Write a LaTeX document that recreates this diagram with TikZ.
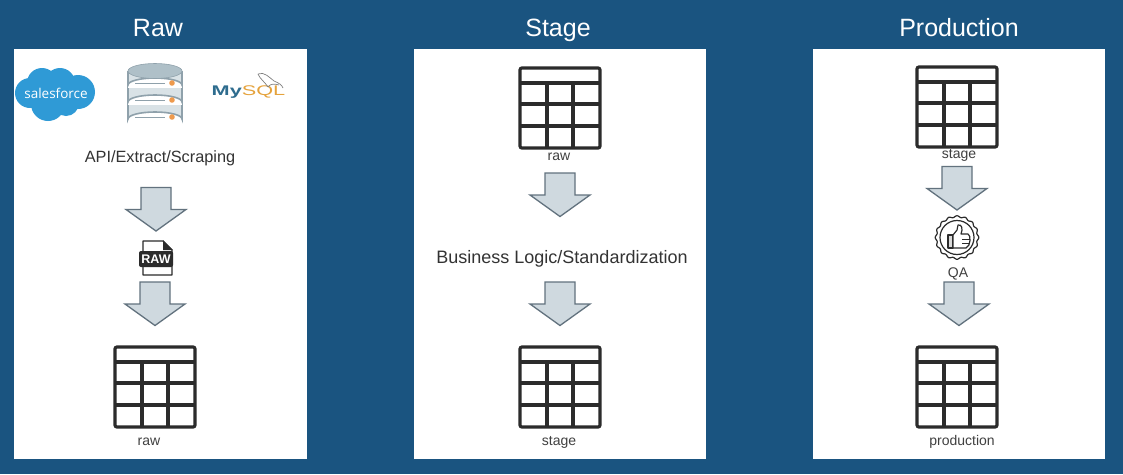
\documentclass[tikz,border=0pt]{standalone}
\usepackage{fontspec}
\setmainfont{Liberation Sans}
\newfontfamily\cloudfont{Open Sans}
\definecolor{bgblue}{HTML}{1A5480}
\definecolor{arrowgray}{HTML}{CFD9DF}
\definecolor{arrowedge}{HTML}{62727E}
\definecolor{cloudblue}{HTML}{2F9AD6}
\definecolor{diskgray}{HTML}{D9E2E6}
\definecolor{disktop}{HTML}{AFC0C8}
\definecolor{diskedge}{HTML}{8FA1AB}
\definecolor{dotorange}{HTML}{EE9A4D}
\definecolor{mysqlblue}{HTML}{2E6C8E}
\definecolor{mysqlorange}{HTML}{E5A23B}
\definecolor{iconblack}{HTML}{2B2B2B}
\tikzset{
    panel/.style={fill=white,draw=none},
    titlelabel/.style={text=white,font=\fontsize{25}{28}\selectfont,inner sep=0pt,anchor=base},
    smalllabel/.style={text=black!75,font=\fontsize{14}{16}\selectfont,inner sep=0pt,anchor=base},
    tablepic/.pic={
        \draw[iconblack,line width=3.2pt,rounded corners=2pt] (0,0) rectangle (80,80);
        \draw[iconblack,line width=3.2pt] (0,15) -- (80,15);
        \foreach \y in {36,58}
            \draw[iconblack,line width=3.2pt] (0,\y) -- (80,\y);
        \foreach \x in {27,53}
            \draw[iconblack,line width=3.2pt] (\x,15) -- (\x,80);
    },
    blockdown/.pic={
        \filldraw[fill=arrowgray,draw=arrowedge,line width=1.3pt,line join=miter]
            (15,0) -- (45,0) -- (45,22) -- (60,22) -- (30,43.5) -- (0,22) -- (15,22) -- cycle;
    }
}
\begin{document}
\begin{tikzpicture}[x=1pt,y=-1pt]
            \fill[bgblue] (0,0) rectangle (1123,474);
            \useasboundingbox (0,0) rectangle (1123,474);
            \fill[panel] (14,49) rectangle (307,459);
            \fill[panel] (414,49) rectangle (706,459);
            \fill[panel] (813,49) rectangle (1105,459);
            \node[titlelabel] (rawtitle) at (158,36) {Raw};
            \node[titlelabel] (stagetitle) at (558,36) {Stage};
            \node[titlelabel] (prodtitle) at (959,36) {Production};

            \fill[cloudblue] (30,93) circle (15);
            \fill[cloudblue] (42,83) circle (15);
            \fill[cloudblue] (60,83) circle (15);
            \fill[cloudblue] (78,92) circle (17);
            \fill[cloudblue] (48,104) circle (17);
            \fill[cloudblue] (66,103) circle (13);
            \node[text=white,inner sep=0pt,font=\cloudfont\fontsize{13.5}{16}\selectfont] (salesforce) at (56,93) {salesforce};

            \foreach \y in {105,88,71}{
                \fill[diskgray] (128,\y) -- (128,\y+14) arc[start angle=180,end angle=360,x radius=27,y radius=7] -- (182,\y) -- cycle;
                \draw[diskedge,line width=1.6pt] (128,\y) -- (128,\y+14) arc[start angle=180,end angle=360,x radius=27,y radius=7] -- (182,\y);
            }
            \filldraw[fill=disktop,draw=diskedge,line width=.6pt] (155,71) ellipse (27 and 7.5);
            \foreach \y in {83,100,117}{
                \draw[diskedge,line width=.9pt] (135,\y) -- (165,\y);
                \fill[dotorange] (172,\y) circle (2.8);
            }

            \node[inner sep=0pt,xscale=1.55,transform shape,font=\fontsize{14}{16}\selectfont] (mysql) at (248.5,92) {\textcolor{mysqlblue}{\bfseries My}\textcolor{mysqlorange}{SQL}};
            \draw[iconblack!60,line width=.7pt] (258,74) .. controls (264,71) and (270,78) .. (274,81) .. controls (279,83) and (282,85) .. (283,88);
            \draw[iconblack!60,line width=.7pt] (258,74) .. controls (260,79) and (264,81) .. (268,87);
            \draw[iconblack!60,line width=.7pt] (268,87) .. controls (271,83) and (275,84) .. (279,85);

            \node[text=black!80,inner sep=0pt,anchor=base,font=\fontsize{16.3}{18}\selectfont] (apilabel) at (160,162) {API/Extract/Scraping};
            \pic at (126,187.5) {blockdown};

            \draw[iconblack,line width=1.4pt,line join=round] (143,241) -- (163,241) -- (172,250) -- (172,275) -- (143,275) -- cycle;
            \fill[iconblack] (163,240) -- (173,250) -- (163,250) -- cycle;
            \node[fill=iconblack,text=white,rounded corners=2pt,inner sep=0pt,minimum width=34pt,minimum height=16pt,font=\fontsize{12.5}{13}\selectfont\bfseries] (rawicon) at (156,259) {RAW};

            \pic at (125,282) {blockdown};
            \pic at (115,347) {tablepic};
            \node[smalllabel] (rawlabel) at (149,445) {raw};

            \pic at (520,68) {tablepic};
            \node[smalllabel] (stageraw) at (559,160) {raw};
            \pic at (530,173) {blockdown};
            \node[text=black!80,inner sep=0pt,anchor=base,font=\fontsize{18}{20}\selectfont] (logiclabel) at (562,263) {Business Logic/Standardization};
            \pic at (530,282) {blockdown};
            \pic at (520,347) {tablepic};
            \node[smalllabel] (stagelabel) at (559,445) {stage};

            \pic at (917,67) {tablepic};
            \node[smalllabel] (prodstage) at (959,158) {stage};
            \pic at (927,166.5) {blockdown};

            \draw[iconblack,line width=1.2pt,domain=0:360,samples=145,smooth] plot ({957+(21+.8*cos(16*\x))*cos(\x)},{237.5+(21+.8*cos(16*\x))*sin(\x)}) -- cycle;
            \draw[iconblack,line width=1.2pt] (957,237.5) circle (17);
            \filldraw[fill=black!15,draw=iconblack,line width=1.2pt,line join=round] (948,235) -- (953,235) -- (953,248) -- (948,248) -- cycle;
            \filldraw[fill=white,draw=iconblack,line width=1.2pt,line join=round] (953,235) -- (957,230) -- (958,225) .. controls (962,224) and (963,229) .. (961,234) -- (968,234) .. controls (971,235) and (971,246) .. (966,248) -- (953,248) -- cycle;
            \foreach \y in {239,243.5}
                \draw[iconblack,line width=1pt] (962,\y) -- (969.5,\y);
            \node[smalllabel] (qalabel) at (958,277) {QA};

            \pic at (929,282) {blockdown};
            \pic at (917,347) {tablepic};
            \node[smalllabel] (prodlabel) at (962,445) {production};
        \end{tikzpicture}
\end{document}
